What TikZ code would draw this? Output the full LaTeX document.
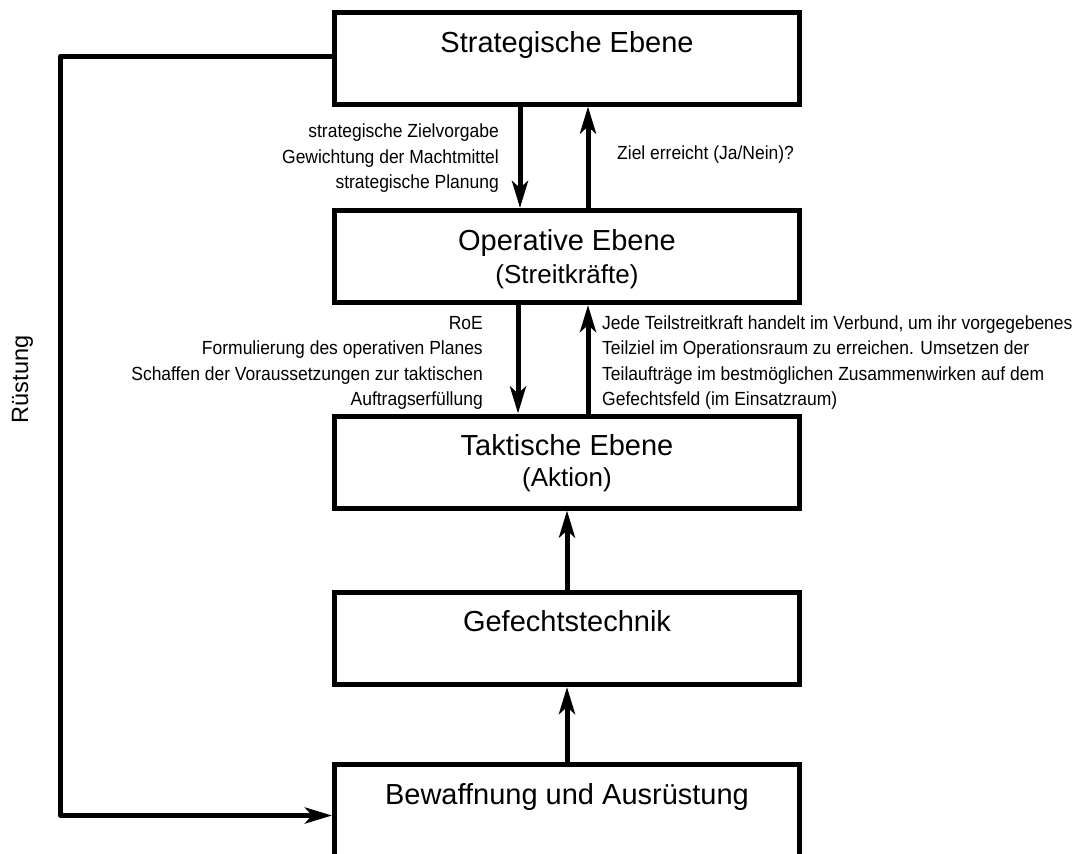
\documentclass[tikz,border=0pt]{standalone}
\usepackage{fontspec}
\setmainfont{Liberation Sans}
\newfontfamily\notefont[FakeStretch=0.92]{Liberation Sans}
\usetikzlibrary{arrows.meta}
\begin{document}
\begin{tikzpicture}[x=1pt,y=-1pt,
  box/.style={draw, line width=5pt, minimum width=465pt, minimum height=92pt, inner sep=0pt},
  title/.style={anchor=base, font=\fontsize{29}{34}\selectfont, inner sep=0pt},
  sub/.style={anchor=base, font=\fontsize{26}{30}\selectfont, inner sep=0pt},
  note/.style={font=\notefont\fontsize{19}{25.5}\selectfont, inner sep=0pt},
  arr/.style={line width=5pt, line join=round, -{Stealth[length=27pt,width=16pt,inset=7pt]}},
]
\useasboundingbox (0,0) rectangle (1080,854);
\clip (0,0) rectangle (1080,854);
\fill[white] (0,0) rectangle (1080,854);

% boxes
\node[box] (s) at (567,58) {};
\node[box] (o) at (567,256.5) {};
\node[box] (t) at (567,462) {};
\node[box] (g) at (567,638.5) {};
\node[box, minimum height=91.5pt] (b) at (567,810.25) {};

% box texts
\node[title] (st) at (567,52) {Strategische Ebene};
\node[title] (ot) at (567,250) {Operative Ebene};
\node[sub] (os) at (567,283) {(Streitkräfte)};
\node[title] (tt) at (567,455.7) {Taktische Ebene};
\node[sub] (ts) at (567,486) {(Aktion)};
\node[title] (gt) at (567,631.5) {Gefechtstechnik};
\node[title] (bt) at (567,804) {Bewaffnung und Ausrüstung};

% annotations
\node[note, align=right, anchor=north east] (n1) at (499,119.65)
  {\strut strategische Zielvorgabe\\Gewichtung der Machtmittel\\strategische Planung};
\node[note, anchor=base west] (n2) at (617,159.5) {Ziel erreicht (Ja/Nein)?};
\node[note, align=right, anchor=north east] (n3) at (483,311.15)
  {\strut RoE\\Formulierung des operativen Planes\\Schaffen der Voraussetzungen zur taktischen\\Auftragserfüllung};
\node[note, align=left, anchor=north west] (n4) at (602,311.15)
  {\strut Jede Teilstreitkraft handelt im Verbund, um ihr vorgegebenes\\Teilziel im Operationsraum zu erreichen. Umsetzen der\\Teilaufträge im bestmöglichen Zusammenwirken auf dem\\Gefechtsfeld (im Einsatzraum)};
\node[rotate=90, anchor=base, font=\fontsize{23.5}{28}\selectfont, inner sep=0pt] (r) at (28,379.5) {Rüstung};

% helper coordinates
\coordinate (c1) at (520,0);
\coordinate (c2) at (588,0);
\coordinate (c3) at (518,0);
\coordinate (l1) at (60.5,56);
\coordinate (l2) at (60.5,815.5);

% connectors
\draw[arr] (s.south -| c1) -- (o.north -| c1);
\draw[arr] (o.north -| c2) -- (s.south -| c2);
\draw[arr] (o.south -| c3) -- (t.north -| c3);
\draw[arr] (t.north -| c2) -- (o.south -| c2);
\draw[arr] (g.north) -- (t.south);
\draw[arr] (b.north) -- (g.south);
\draw[arr] (s.west |- l1) -- (l1) -- (l2) -- (b.west |- l2);
\end{tikzpicture}
\end{document}
